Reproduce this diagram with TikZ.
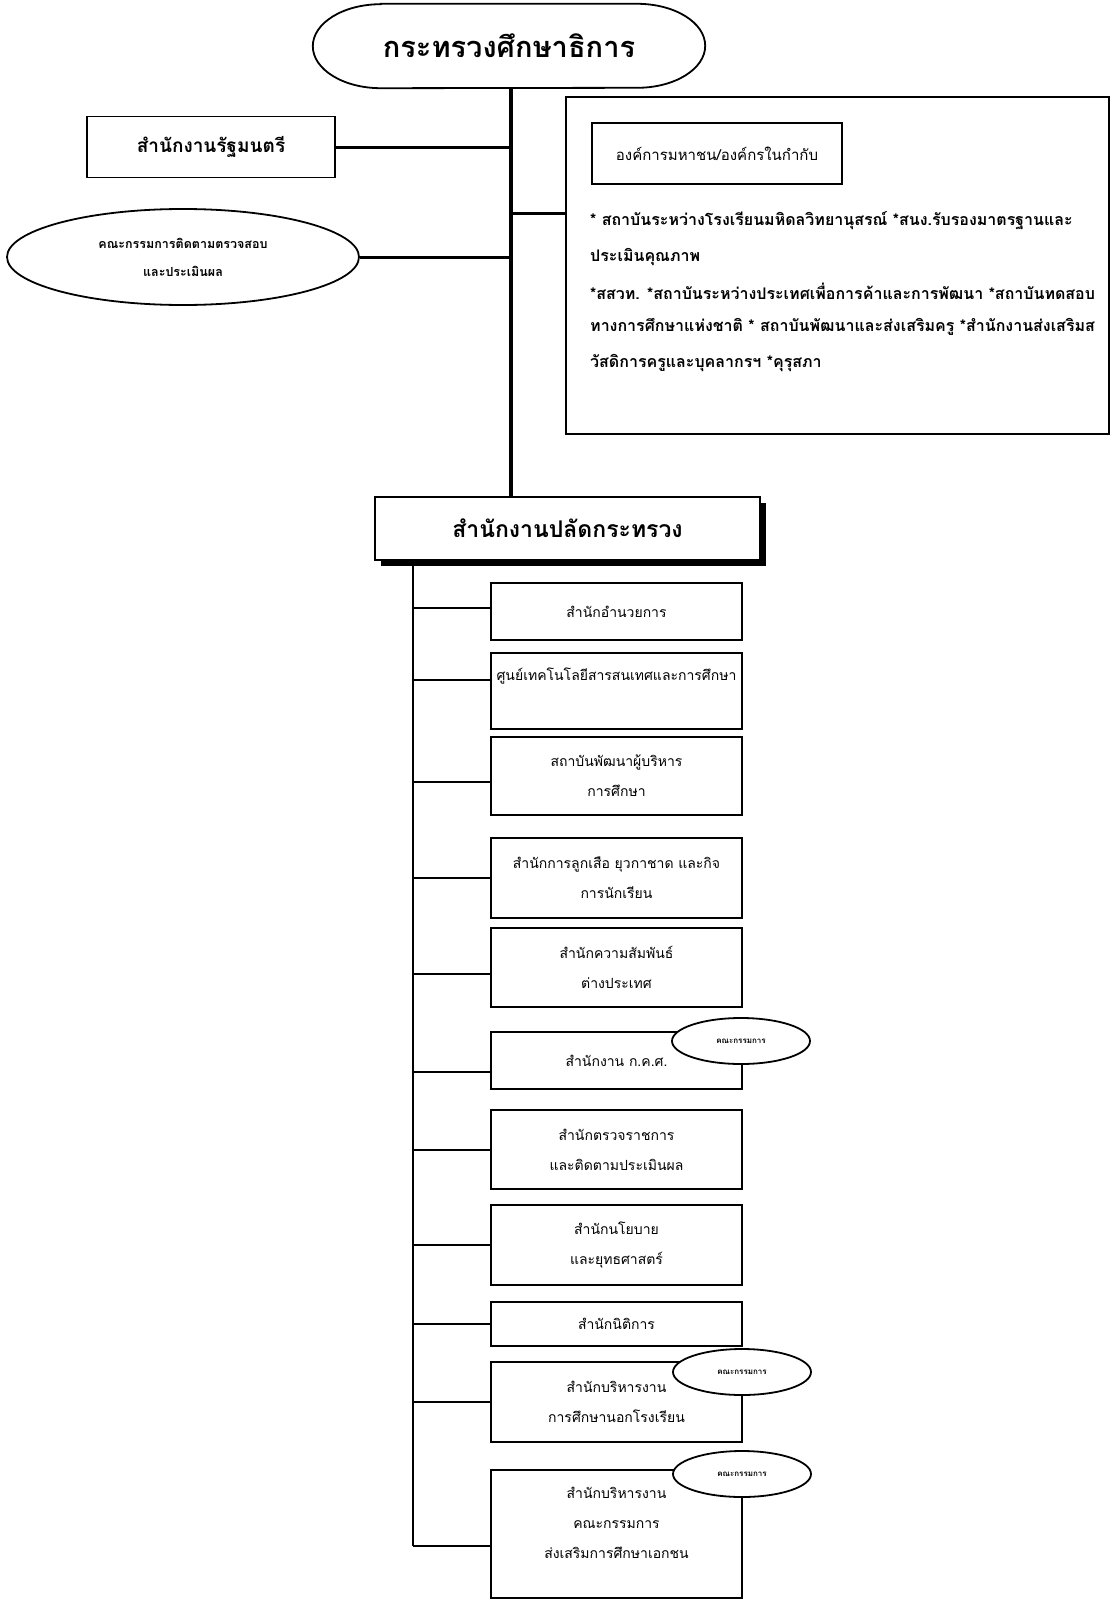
\documentclass[tikz,border=0pt]{standalone}
\usepackage{fontspec}
\newfontfamily\thai[Script=Thai]{Loma}
\usetikzlibrary{shapes.geometric,shadows}
\begin{document}
\begin{tikzpicture}[x=1pt,y=-1pt,
  rbox/.style={draw, line width=1.8pt, inner sep=0pt, align=center},
  ell/.style={ellipse, draw, line width=1.8pt, inner sep=0pt, align=center, fill=white},
  smell/.style={ell, minimum width=138pt, minimum height=46pt, font=\thai\bfseries\fontsize{8}{9}\selectfont},
  subbox/.style={rbox, minimum width=251pt, font=\thai\fontsize{14}{30}\selectfont},
  subtext/.style={inner sep=0pt, align=center, font=\thai\fontsize{14}{30}\selectfont},
  orgline/.style={anchor=west, inner sep=0pt, font=\thai\bfseries\fontsize{16}{18}\selectfont},
  outline/.style={line width=1.8pt},
  trunk/.style={line width=3.5pt},
  conn/.style={line width=3pt},
  subtrunk/.style={line width=2.6pt},
  branch/.style={line width=2pt}]
\useasboundingbox (0,0) rectangle (1111,1600);

% top level: oval with elliptic ends
\node[minimum width=392pt, minimum height=84pt, inner sep=0pt, font=\thai\bfseries\fontsize{29}{34}\selectfont] (moe) at (509,46) {กระทรวงศึกษาธิการ};
\draw[outline] ([xshift=68pt]moe.north west) -- ([xshift=-68pt]moe.north east)
   arc[start angle=90, end angle=-90, x radius=68pt, y radius=42pt]
   -- ([xshift=68pt]moe.south west)
   arc[start angle=270, end angle=90, x radius=68pt, y radius=42pt] -- cycle;
\node[rbox, minimum width=248pt, minimum height=61pt, font=\thai\bfseries\fontsize{19}{22}\selectfont] (rmt) at (211,147) {สำนักงานรัฐมนตรี};
\node[ell, minimum width=352pt, minimum height=96pt, font=\thai\bfseries\fontsize{12.5}{28}\selectfont] (eval) at (183,257) {คณะกรรมการติดตามตรวจสอบ\\และประเมินผล};

% organisations box
\node[rbox, minimum width=543pt, minimum height=337pt] (orgs) at (837.5,265.5) {};
\node[rbox, minimum width=250pt, minimum height=61pt, font=\thai\fontsize{15}{18}\selectfont] (orgt) at (717,153.5) {องค์การมหาชน/องค์กรในกำกับ};
\node[orgline] (l1) at (590,221) {* สถาบันระหว่างโรงเรียนมหิดลวิทยานุสรณ์ *สนง.รับรองมาตรฐานและ};
\node[orgline] (l2) at (590,257) {ประเมินคุณภาพ};
\node[orgline] (l3) at (590,291) {*สสวท. *สถาบันระหว่างประเทศเพื่อการค้าและการพัฒนา *สถาบันทดสอบ};
\node[orgline] (l4) at (590,327) {ทางการศึกษาแห่งชาติ * สถาบันพัฒนาและส่งเสริมครู *สำนักงานส่งเสริมส};
\node[orgline] (l5) at (590,363) {วัสดิการครูและบุคลากรฯ *คุรุสภา};

% permanent secretary
\node[rbox, fill=white, drop shadow={shadow xshift=6pt, shadow yshift=-6pt, opacity=1, fill=black},
      minimum width=385pt, minimum height=63pt, font=\thai\bfseries\fontsize{23}{28}\selectfont] (palad) at (567.5,528.5) {สำนักงานปลัดกระทรวง};

% connectors top
\coordinate (tk) at ([xshift=2pt]moe.south);
\draw[trunk] (tk) -- (tk |- palad.north);
\draw[conn] (rmt.east) -- (rmt.east -| tk);
\draw[conn] (eval.east) -- (eval.east -| tk);
\coordinate (oin) at ([yshift=52pt]orgs.west);
\draw[conn] (oin) -- (oin -| tk);

% sub offices
\node[subbox, minimum height=57pt] (b1) at (616.5,611.5) {สำนักอำนวยการ};
\node[subbox, minimum height=76pt] (b2) at (616.5,691) {};
\node[subtext] (t2) at (616.5,676) {ศูนย์เทคโนโลยีสารสนเทศและการศึกษา};
\node[subbox, minimum height=78pt] (b3) at (616.5,776) {สถาบันพัฒนาผู้บริหาร\\การศึกษา};
\node[subbox, minimum height=80pt] (b4) at (616.5,878) {สำนักการลูกเสือ ยุวกาชาด และกิจ\\การนักเรียน};
\node[subbox, minimum height=79pt] (b5) at (616.5,967.5) {สำนักความสัมพันธ์\\ต่างประเทศ};
\node[subbox, minimum height=57pt] (b6) at (616.5,1060.5) {สำนักงาน ก.ค.ศ.};
\node[subbox, minimum height=79pt] (b7) at (616.5,1149.5) {สำนักตรวจราชการ\\และติดตามประเมินผล};
\node[subbox, minimum height=80pt] (b8) at (616.5,1245) {สำนักนโยบาย\\และยุทธศาสตร์};
\node[subbox, minimum height=44pt] (b9) at (616.5,1324) {สำนักนิติการ};
\node[subbox, minimum height=80pt] (b10) at (616.5,1402) {สำนักบริหารงาน\\การศึกษานอกโรงเรียน};
\node[subbox, minimum height=128pt] (b11) at (616.5,1534) {};
\node[subtext] (t11) at (616.5,1523) {สำนักบริหารงาน\\คณะกรรมการ\\ส่งเสริมการศึกษาเอกชน};

% committee ellipses
\node[smell] (e6) at (741,1041) {คณะกรรมการ};
\node[smell] (e10) at (742,1372) {คณะกรรมการ};
\node[smell] (e11) at (742,1474) {คณะกรรมการ};

% sub trunk and branches
\coordinate (st) at (413,563);
\coordinate (k1) at ([yshift=4pt]b1.west);
\coordinate (k2) at ([yshift=11pt]b2.west);
\coordinate (k3) at ([yshift=-6pt]b3.west);
\coordinate (k4) at (b4.west);
\coordinate (k5) at ([yshift=-6pt]b5.west);
\coordinate (k6) at ([yshift=-11pt]b6.west);
\coordinate (k7) at (b7.west);
\coordinate (k8) at (b8.west);
\coordinate (k9) at (b9.west);
\coordinate (k10) at (b10.west);
\coordinate (k11) at ([yshift=-12pt]b11.west);
\draw[subtrunk] (st) -- (st |- k11);
\foreach \k in {k1,k2,k3,k4,k5,k6,k7,k8,k9,k10,k11}
  \draw[branch] (st |- \k) -- (\k);
\end{tikzpicture}
\end{document}
